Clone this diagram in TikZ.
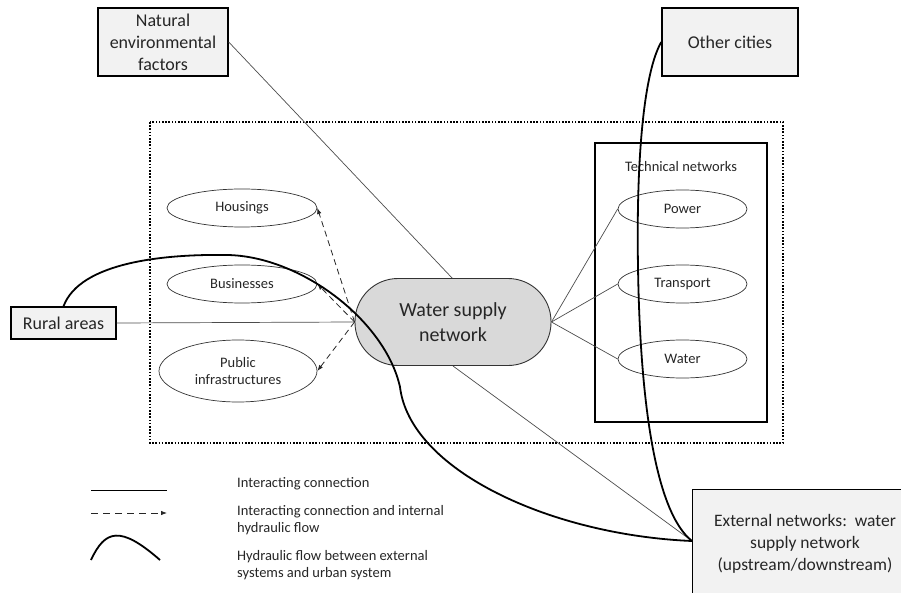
\documentclass[tikz,border=0pt]{standalone}
\usepackage{fontspec}
\setmainfont{Carlito}
\usetikzlibrary{shapes.geometric,arrows.meta}
\definecolor{boxgray}{HTML}{F2F2F2}
\definecolor{wsgray}{HTML}{D9D9D9}
\definecolor{txt}{HTML}{262626}
\begin{document}
\begin{tikzpicture}[x=1pt,y=-1pt,
  box/.style={draw=black, line width=1.4pt, fill=boxgray, text=txt, font=\fontsize{18}{22}\selectfont, align=center, inner sep=0pt},
  ell/.style={ellipse, draw=black!80, line width=0.7pt, inner sep=0pt, text=txt, font=\fontsize{14.5}{17}\selectfont, align=center},
  conn/.style={draw=black!70, line width=0.7pt},
  dasharrow/.style={draw=black!85, line width=0.8pt, dash pattern=on 6pt off 4pt, -{Latex[length=6pt,width=4.5pt]}},
  flow/.style={draw=black, line width=1.8pt},
  lgd/.style={font=\fontsize{14.5}{17}\selectfont, text=txt, align=left, anchor=west, inner sep=0pt}
]
\clip (0,0) rectangle (901,593);

% frames
\draw[line width=1.8pt, dash pattern=on 1.6pt off 1.6pt] (150,122) rectangle (783,443);
\draw[line width=1.8pt] (595,143) rectangle (767,422);
\node[text=txt, font=\fontsize{14.5}{17}\selectfont, inner sep=0pt] (techlabel) at (681,167) {Technical networks};

% nodes
\node[box, minimum width=130pt, minimum height=68pt] (natural) at (163,42) {Natural\\environmental\\factors};
\node[box, minimum width=136pt, minimum height=68pt] (other) at (730,42) {Other cities};
\node[box, minimum width=105pt, minimum height=32pt] (rural) at (63.5,323) {Rural areas};
\node[box, anchor=north west, minimum width=240pt, minimum height=140pt] (external) at (692,489) {};
\node[text=txt, font=\fontsize{17.5}{22}\selectfont, align=center, inner sep=0pt] (exttext) at (805,544) {External networks:~~water\\supply network\\(upstream/downstream)};
\coordinate (extin) at (692,541);

\node[ell, minimum width=150pt, minimum height=38pt] (housings) at (242,208) {Housings};
\node[ell, minimum width=150pt, minimum height=38pt] (business) at (242,284) {Businesses};
\node[ell, minimum width=158pt, minimum height=62pt] (public) at (238,371) {Public\\infrastructures};

\node[ell, minimum width=129pt, minimum height=38pt] (power) at (682.5,209) {Power};
\node[ell, minimum width=129pt, minimum height=38pt] (transport) at (682.5,284) {Transport};
\node[ell, minimum width=129pt, minimum height=38pt] (water) at (682.5,359) {Water};

% thin connections (behind central node)
\coordinate (wstop) at (453,279);
\coordinate (wsbot) at (453,366);
\draw[conn] (natural.east) -- (wstop);
\draw[conn] (wsbot) -- (extin);

\node[draw=black!80, line width=0.9pt, fill=wsgray, rounded corners=43pt, minimum width=196pt, minimum height=87pt, text=txt, font=\fontsize{20}{25}\selectfont, align=center, inner sep=0pt] (ws) at (453,322) {Water supply\\network};

\draw[conn] (rural.east) -- (ws.west);
\draw[conn] (ws.east) -- (power.west);
\draw[conn] (ws.east) -- (transport.west);
\draw[conn] (ws.east) -- (water.west);

\draw[dasharrow] (ws.west) -- (housings.east);
\draw[dasharrow] (ws.west) -- (business.east);
\draw[dasharrow] (ws.west) -- (public.east);

% hydraulic flows
\draw[flow] (rural.north) .. controls (80,262) and (165,254) .. (227,255)
  .. controls (300,256) and (385,320) .. (400,387)
  .. controls (410,470) and (550,535) .. (extin);
\draw[flow] (other.west) .. controls (645,70) and (636,150) .. (638,267)
  .. controls (640,400) and (655,512) .. (extin);

% legend
\coordinate (l1a) at (91,490); \coordinate (l1b) at (167,490);
\coordinate (l2a) at (91,513); \coordinate (l2b) at (167,513);
\coordinate (l3a) at (91,560); \coordinate (l3b) at (160,560);
\draw[conn, draw=black] (l1a) -- (l1b);
\draw[dasharrow, dash pattern=on 7pt off 5pt] (l2a) -- (l2b);
\draw[flow] (l3a) .. controls (105,530) and (120,525) .. (l3b);
\node[lgd] (t1) at (237,484) {Interacting connection};
\node[lgd] (t2) at (237,520.5) {Interacting connection and internal\\hydraulic flow};
\node[lgd] (t3) at (237,565.5) {Hydraulic flow between external\\systems and urban system};
\end{tikzpicture}
\end{document}
